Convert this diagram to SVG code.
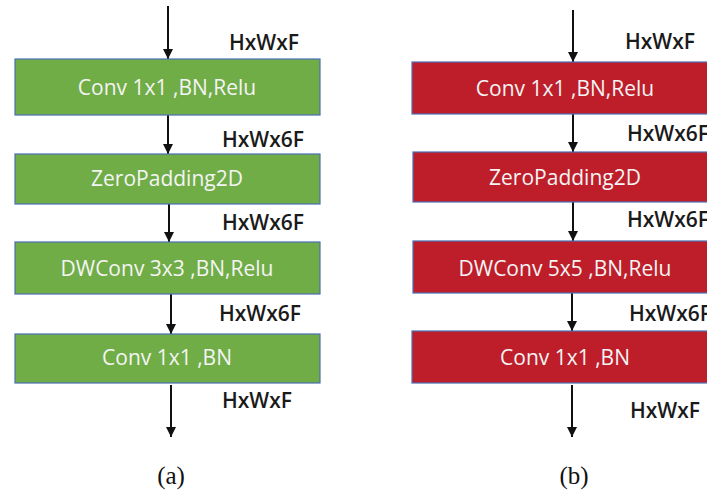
<svg xmlns="http://www.w3.org/2000/svg" width="707" height="492" viewBox="0 0 707 492">
  <style>
    .box-a { fill: #70AD47; stroke: #4A6FB5; stroke-width: 1.2; }
    .box-b { fill: #BE1E2A; stroke: #4A6FB5; stroke-width: 1.2; }
    .box-text { font-family: "Open Sans", "Noto Sans", sans-serif; font-size: 21px; fill: #F4F4F4; text-anchor: middle; }
    .dim { font-family: "Open Sans", "Noto Sans", sans-serif; font-size: 21px; font-weight: 600; fill: #1A1A1A; }
    .caption { font-family: "Liberation Serif", serif; font-size: 25px; fill: #111; text-anchor: middle; }
    .edge { stroke: #111; stroke-width: 2; fill: none; marker-end: url(#head); }
  </style>
  <defs>
    <marker id="head" viewBox="0 0 10 10" refX="10" refY="5" markerWidth="5" markerHeight="5" orient="auto" markerUnits="strokeWidth">
      <path d="M0,0 L10,5 L0,10 z" fill="#111"/>
    </marker>
  </defs>
  <rect width="707" height="492" fill="#FFFFFF"/>

  <!-- connectors -->
  <g id="connectors">
    <line class="edge" x1="168" y1="6" x2="168" y2="59"/>
    <line class="edge" x1="168" y1="115" x2="168" y2="154"/>
    <line class="edge" x1="169" y1="204" x2="169" y2="242"/>
    <line class="edge" x1="171" y1="294" x2="171" y2="334"/>
    <line class="edge" x1="171" y1="385" x2="171" y2="437"/>

    <line class="edge" x1="573" y1="10" x2="573" y2="62"/>
    <line class="edge" x1="573" y1="114" x2="573" y2="152"/>
    <line class="edge" x1="573" y1="202" x2="573" y2="241"/>
    <line class="edge" x1="572" y1="293" x2="572" y2="331"/>
    <line class="edge" x1="572" y1="385" x2="572" y2="437"/>
  </g>

  <!-- variant (a): DWConv 3x3 -->
  <g id="a-conv1">
    <rect class="box-a" x="15" y="59" width="305" height="56"/>
    <text class="box-text" x="167" y="95">Conv 1x1 ,BN,Relu</text>
  </g>
  <g id="a-pad">
    <rect class="box-a" x="15" y="154" width="305" height="50"/>
    <text class="box-text" x="167" y="186">ZeroPadding2D</text>
  </g>
  <g id="a-dw">
    <rect class="box-a" x="15" y="242" width="305" height="52"/>
    <text class="box-text" x="167" y="276">DWConv 3x3 ,BN,Relu</text>
  </g>
  <g id="a-conv2">
    <rect class="box-a" x="15" y="334" width="305" height="49"/>
    <text class="box-text" x="167" y="365">Conv 1x1 ,BN</text>
  </g>
  <g id="a-dims">
    <text class="dim" x="229" y="50">HxWxF</text>
    <text class="dim" x="222" y="147">HxWx6F</text>
    <text class="dim" x="222" y="230">HxWx6F</text>
    <text class="dim" x="219" y="321">HxWx6F</text>
    <text class="dim" x="222" y="408">HxWxF</text>
  </g>
  <text class="caption" x="171" y="484">(a)</text>

  <!-- variant (b): DWConv 5x5; the right column runs past the canvas edge -->
  <g id="b-conv1">
    <rect class="box-b" x="412" y="62" width="305" height="52"/>
    <text class="box-text" x="565" y="96">Conv 1x1 ,BN,Relu</text>
  </g>
  <g id="b-pad">
    <rect class="box-b" x="413" y="152" width="305" height="50"/>
    <text class="box-text" x="565" y="185">ZeroPadding2D</text>
  </g>
  <g id="b-dw">
    <rect class="box-b" x="413" y="241" width="305" height="52"/>
    <text class="box-text" x="565" y="276">DWConv 5x5 ,BN,Relu</text>
  </g>
  <g id="b-conv2">
    <rect class="box-b" x="412" y="331" width="305" height="52"/>
    <text class="box-text" x="565" y="365">Conv 1x1 ,BN</text>
  </g>
  <g id="b-dims">
    <text class="dim" x="625" y="49">HxWxF</text>
    <text class="dim" x="627" y="141">HxWx6F</text>
    <text class="dim" x="627" y="227">HxWx6F</text>
    <text class="dim" x="629" y="321">HxWx6F</text>
    <text class="dim" x="630" y="418">HxWxF</text>
  </g>
  <text class="caption" x="574" y="484">(b)</text>
</svg>
